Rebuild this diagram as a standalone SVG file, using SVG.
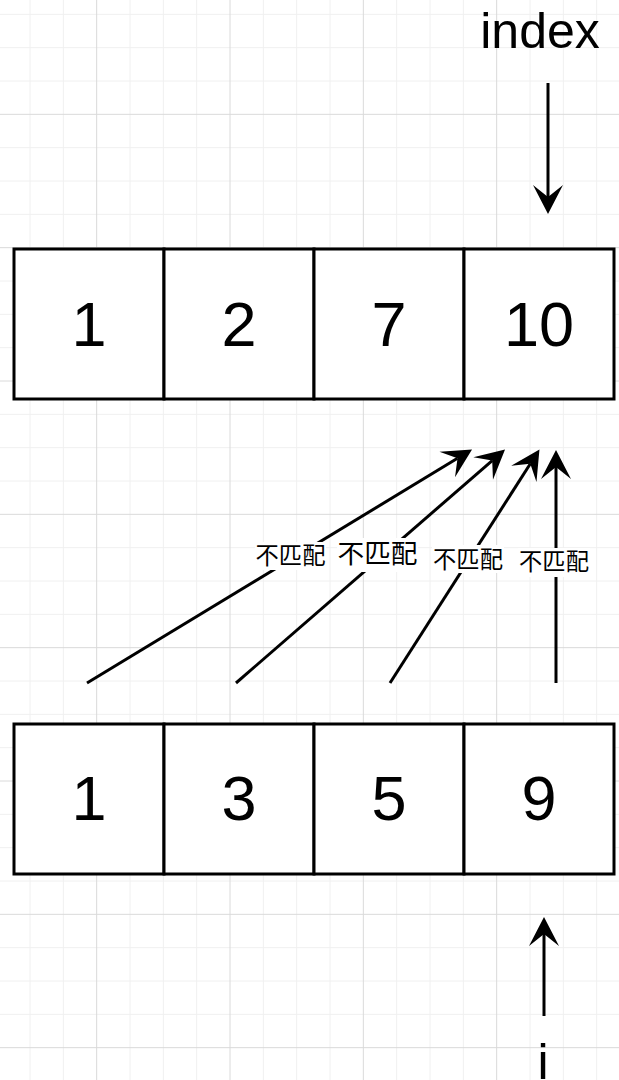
<svg xmlns="http://www.w3.org/2000/svg" width="619" height="1080" viewBox="0 0 619 1080">
<style>
.minor{stroke:#f0f0f0;stroke-width:1;fill:none}
.major{stroke:#dadada;stroke-width:1;fill:none}
.cell{fill:#ffffff;stroke:#000000;stroke-width:3}
.num{font-family:"Liberation Sans",Arial,sans-serif;font-size:63px;fill:#000;text-anchor:middle}
.ptr{font-family:"Liberation Sans",Arial,sans-serif;font-size:50px;fill:#000;text-anchor:middle}
.edge{stroke:#000;stroke-width:3;fill:none;marker-end:url(#arr)}
.lbl{font-family:"Noto Sans CJK SC","Noto Sans",sans-serif;fill:#000;text-anchor:middle}
.lblbg{fill:#ffffff}
</style>
<defs>
<marker id="arr" markerUnits="userSpaceOnUse" viewBox="0 -16 30 32" markerWidth="30" markerHeight="32" refX="12" refY="0" orient="auto" overflow="visible">
<path d="M0,-15 L29,0 L0,15 L12,0 Z" fill="#000"/>
</marker>
</defs>
<rect x="0" y="0" width="619" height="1080" fill="#ffffff"/>
<g id="grid">
<path class="minor" d="M30,0V1080M63.33,0V1080M130,0V1080M163.33,0V1080M196.67,0V1080M263.33,0V1080M296.67,0V1080M330,0V1080M396.67,0V1080M430,0V1080M463.33,0V1080M530,0V1080M563.33,0V1080M596.67,0V1080
M0,14.33H619M0,47.67H619M0,81H619M0,147.67H619M0,181H619M0,214.33H619M0,281H619M0,314.33H619M0,347.67H619M0,414.33H619M0,447.67H619M0,481H619M0,547.67H619M0,581H619M0,614.33H619M0,681H619M0,714.33H619M0,747.67H619M0,814.33H619M0,847.67H619M0,881H619M0,947.67H619M0,981H619M0,1014.33H619"/>
<path class="major" d="M96.67,0V1080M230,0V1080M363.33,0V1080M496.67,0V1080M0,114.33H619M0,247.67H619M0,381H619M0,514.33H619M0,647.67H619M0,781H619M0,914.33H619M0,1047.67H619"/>
</g>
<g id="top-0"><rect class="cell" x="14" y="249" width="150" height="150"/><text class="num" x="89" y="346">1</text></g>
<g id="top-1"><rect class="cell" x="164" y="249" width="150" height="150"/><text class="num" x="239" y="346">2</text></g>
<g id="top-2"><rect class="cell" x="314" y="249" width="150" height="150"/><text class="num" x="389" y="346">7</text></g>
<g id="top-3"><rect class="cell" x="464" y="249" width="150" height="150"/><text class="num" x="539" y="346">10</text></g>
<g id="bot-0"><rect class="cell" x="14" y="724" width="150" height="150"/><text class="num" x="89" y="820">1</text></g>
<g id="bot-1"><rect class="cell" x="164" y="724" width="150" height="150"/><text class="num" x="239" y="820">3</text></g>
<g id="bot-2"><rect class="cell" x="314" y="724" width="150" height="150"/><text class="num" x="389" y="820">5</text></g>
<g id="bot-3"><rect class="cell" x="464" y="724" width="150" height="150"/><text class="num" x="539" y="820">9</text></g>
<g id="index-label"><text class="ptr" x="540" y="48">index</text></g>
<g id="i-label"><text class="ptr" x="543" y="1079">i</text></g>
<g id="connectors">
<path class="edge" d="M548,83 L548,197"/>
<path class="edge" d="M544,1016 L544,934"/>
<path class="edge" d="M87,683 L457.5,458.3"/>
<path class="edge" d="M236,683 L492.2,460.6"/>
<path class="edge" d="M390,683 L530.3,463.8"/>
<path class="edge" d="M556,683 L556,467"/>
<g id="label-1"><rect class="lblbg" x="255" y="542" width="71" height="28"/><text class="lbl" x="290.5" y="563.5" font-size="23.3">不匹配</text></g>
<g id="label-2"><rect class="lblbg" x="337" y="538" width="81" height="34"/><text class="lbl" x="377.5" y="563" font-size="26.7">不匹配</text></g>
<g id="label-3"><rect class="lblbg" x="432" y="545" width="72" height="28"/><text class="lbl" x="468" y="568" font-size="23.3">不匹配</text></g>
<g id="label-4"><rect class="lblbg" x="518" y="548" width="72" height="29"/><text class="lbl" x="554" y="570" font-size="23.3">不匹配</text></g>
</g>
</svg>
